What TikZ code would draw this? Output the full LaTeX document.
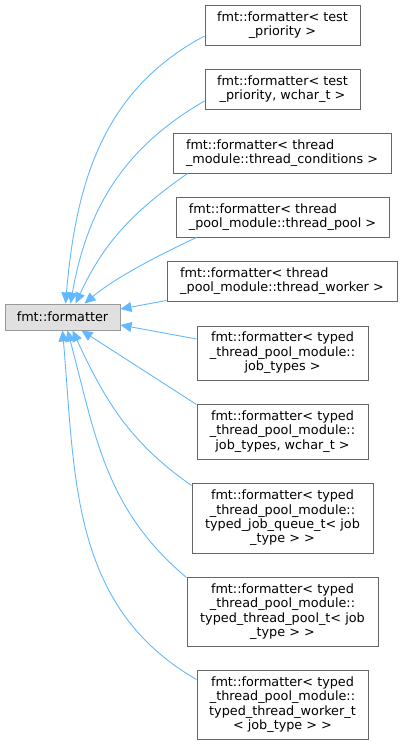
\documentclass[tikz,border=0pt]{standalone}
\usepackage{fontspec}
\setmainfont{DejaVu Sans}
\usetikzlibrary{arrows.meta}
\definecolor{edgeblue}{HTML}{63B8FF}
\definecolor{boxgray}{HTML}{666666}
\definecolor{basegray}{HTML}{999999}
\definecolor{basefill}{HTML}{E0E0E0}
\begin{document}
\begin{tikzpicture}[x=1pt, y=1pt,
		cls/.style={draw=boxgray, line width=1pt, fill=white, inner sep=0pt, font=\fontsize{12.8}{14.4}\selectfont},
		basecls/.style={cls, draw=basegray, fill=basefill},
		edge/.style={draw=edgeblue, line width=0.9pt, {Triangle[length=11pt, width=10pt, fill=edgeblue]}-}]
		\useasboundingbox (0, 0) rectangle (403, -745);

		\node[basecls, minimum width=115, minimum height=26] (base) at (62.5, -317) {fmt::formatter};

		\node[cls, align=center, minimum width=155, minimum height=40] (prio) at (282.5, -25) {fmt::formatter< test\\\_priority >};
		\node[cls, align=center, minimum width=155, minimum height=40] (priow) at (282.5, -89) {fmt::formatter< test\\\_priority, wchar\_t >};
		\node[cls, align=left, minimum width=218, minimum height=40] (cond) at (282, -153) {fmt::formatter< thread\\\_module::thread\_conditions >};
		\node[cls, align=left, minimum width=213, minimum height=40] (pool) at (282.5, -217) {fmt::formatter< thread\\\_pool\_module::thread\_pool >};
		\node[cls, align=left, minimum width=230, minimum height=40] (worker) at (282, -281) {fmt::formatter< thread\\\_pool\_module::thread\_worker >};
		\node[cls, align=center, minimum width=171, minimum height=54] (jobt) at (282.5, -353) {fmt::formatter< typed\\\_thread\_pool\_module::\\job\_types >};
		\node[cls, align=center, minimum width=171, minimum height=55] (jobtw) at (282.5, -431.5) {fmt::formatter< typed\\\_thread\_pool\_module::\\job\_types, wchar\_t >};
		\node[cls, align=center, minimum width=181, minimum height=70] (queue) at (282.5, -518) {fmt::formatter< typed\\\_thread\_pool\_module::\\typed\_job\_queue\_t< job\\\_type > >};
		\node[cls, align=center, minimum width=191, minimum height=69] (tpool) at (282.5, -611.5) {fmt::formatter< typed\\\_thread\_pool\_module::\\typed\_thread\_pool\_t< job\\\_type > >};
		\node[cls, align=center, minimum width=171, minimum height=69] (tworker) at (282.5, -704.5) {fmt::formatter< typed\\\_thread\_pool\_module::\\typed\_thread\_worker\_t\\< job\_type > >};

		\draw[edge] ([xshift=61pt]base.north west) to[out=85, in=208] ([yshift=-11pt]prio.west);
		\draw[edge] ([xshift=66pt]base.north west) to[out=80, in=210] ([yshift=-12pt]priow.west);
		\draw[edge] ([xshift=71pt]base.north west) to[out=65, in=215] ([xshift=15pt]cond.south west);
		\draw[edge] ([xshift=80pt]base.north west) to[out=40, in=205, looseness=0.8] ([xshift=21pt]pool.south west);
		\draw[edge] ([yshift=8pt]base.east) -- ([yshift=1pt]worker.south west);
		\draw[edge] ([yshift=-8pt]base.east) -- ([yshift=14pt]jobt.west);
		\draw[edge] ([xshift=77pt]base.south west) -- ([yshift=-1pt]jobtw.north west);
		\draw[edge] ([xshift=68pt]base.south west) to[out=-65, in=145] ([yshift=-3pt]queue.north west);
		\draw[edge] ([xshift=63pt]base.south west) to[out=-75, in=140] ([yshift=-1pt]tpool.north west);
		\draw[edge] ([xshift=58pt]base.south west) to[out=-85, in=150] ([yshift=-10pt]tworker.north west);
	\end{tikzpicture}
\end{document}
